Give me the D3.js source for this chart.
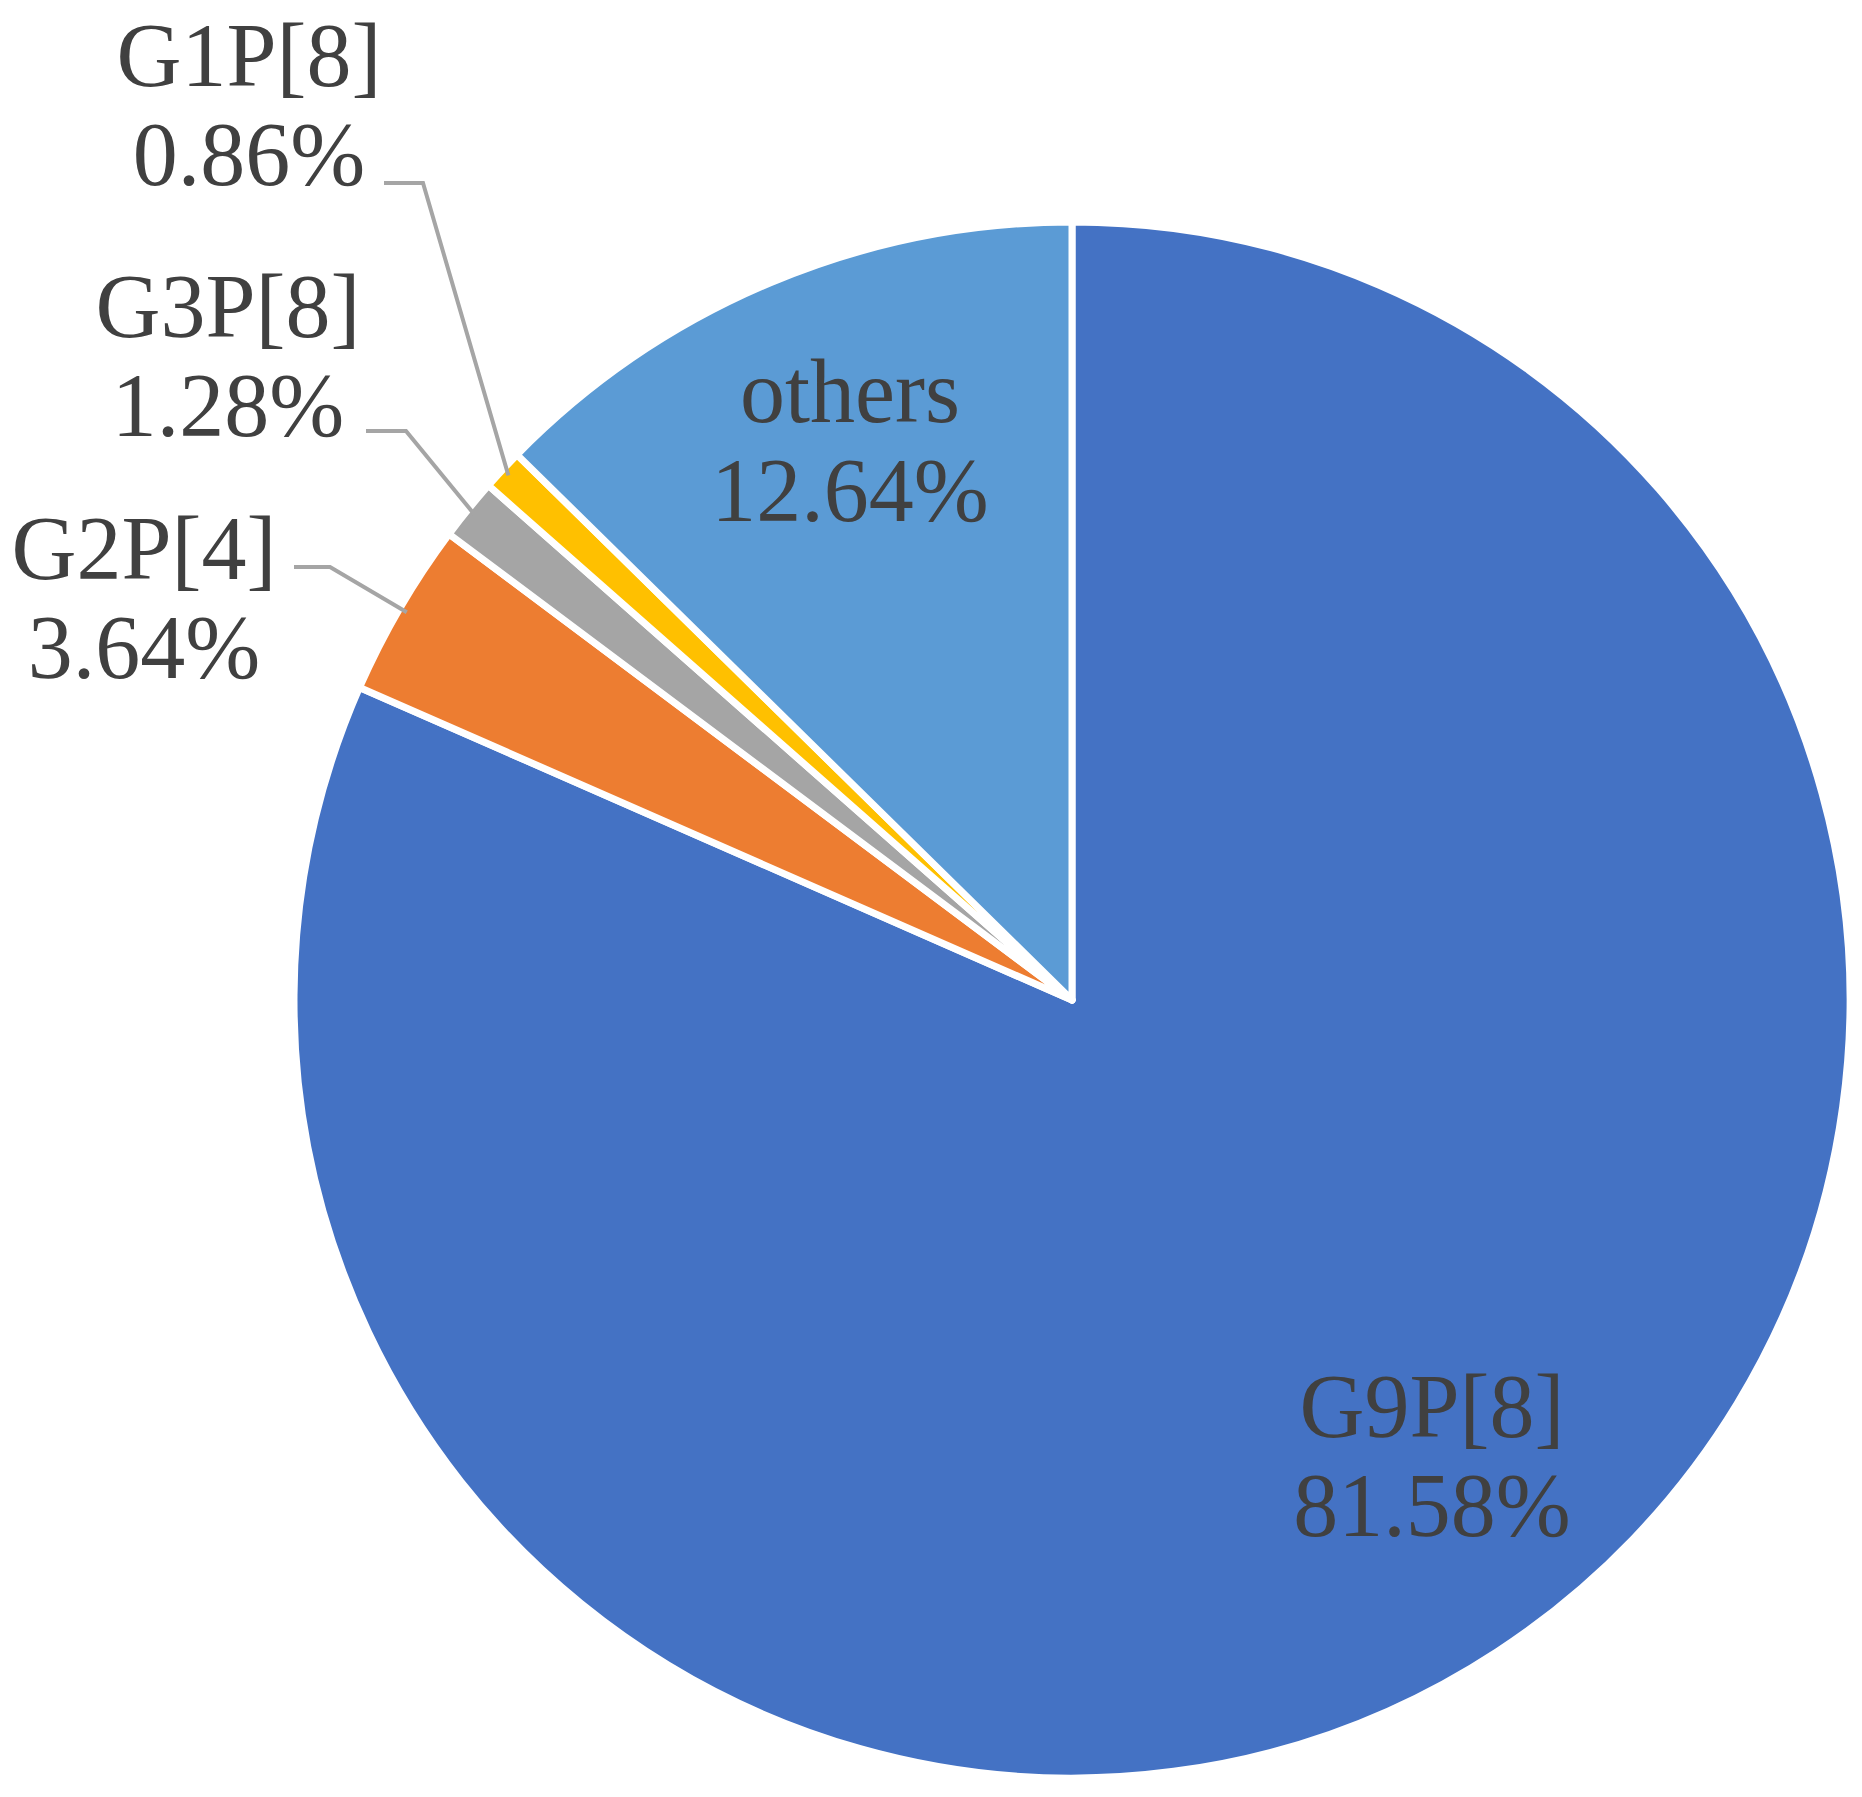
<!DOCTYPE html>
<html>
<head>
<meta charset="utf-8">
<script src="https://cdn.jsdelivr.net/npm/d3@7"></script>
<style>
body { margin: 0; background: #fff; }
</style>
</head>
<body>
<div id="chart"></div>
<script>
var categories = ["G9P[8]", "G2P[4]", "G3P[8]", "G1P[8]", "others"];
var values = [81.58, 3.64, 1.28, 0.86, 12.64];
var colors = ["#4472C4", "#ED7D31", "#A5A5A5", "#FFC000", "#5B9BD5"];
var labelPos = [[1432, 1455], [144, 597], [228, 355], [249, 104], [850, 440]]; // label centres
var outside = [false, true, true, true, false];

var widthx = 1862, heighty = 1797;
var cx = 1072, cy = 1000, r = 778;

var svg = d3.select("#chart").append("svg")
    .attr("width", widthx).attr("height", heighty);
var g = svg.append("g").attr("transform", "translate(" + cx + "," + cy + ")");

var pie = d3.pie().sort(null).value(function(d) { return d; });
var arcs = pie(values);
var arc = d3.arc().innerRadius(0).outerRadius(r);

g.selectAll("path").data(arcs).enter().append("path")
    .attr("d", arc)
    .attr("fill", function(d, i) { return colors[i]; })
    .attr("stroke", "#fff")
    .attr("stroke-width", 7)
    .attr("stroke-linejoin", "round");

// 引导线
var elbow = [null, [294, 330, 567], [366, 406, 431], [384, 423, 183], null];
arcs.forEach(function(d, i) {
    if (!outside[i]) return;
    var a = (d.startAngle + d.endAngle) / 2;
    var ex = cx + Math.sin(a) * (r - 8), ey = cy - Math.cos(a) * (r - 8);
    var e = elbow[i];
    svg.append("polyline")
        .attr("points", [[e[0], e[2]], [e[1], e[2]], [ex, ey]].map(function(p) { return p.join(","); }).join(" "))
        .attr("fill", "none").attr("stroke", "#A5A5A5").attr("stroke-width", 4);
});

categories.forEach(function(c, i) {
    var t = svg.append("text")
        .attr("x", labelPos[i][0]).attr("y", labelPos[i][1])
        .attr("text-anchor", "middle")
        .attr("font-family", "Liberation Serif, Times New Roman, serif")
        .attr("font-size", 90)
        .attr("fill", "#404040");
    t.append("tspan").attr("x", labelPos[i][0]).attr("dy", "-0.2em").text(c);
    t.append("tspan").attr("x", labelPos[i][0]).attr("dy", "1.1em").text(values[i].toFixed(2) + "%");
});
</script>
</body>
</html>
